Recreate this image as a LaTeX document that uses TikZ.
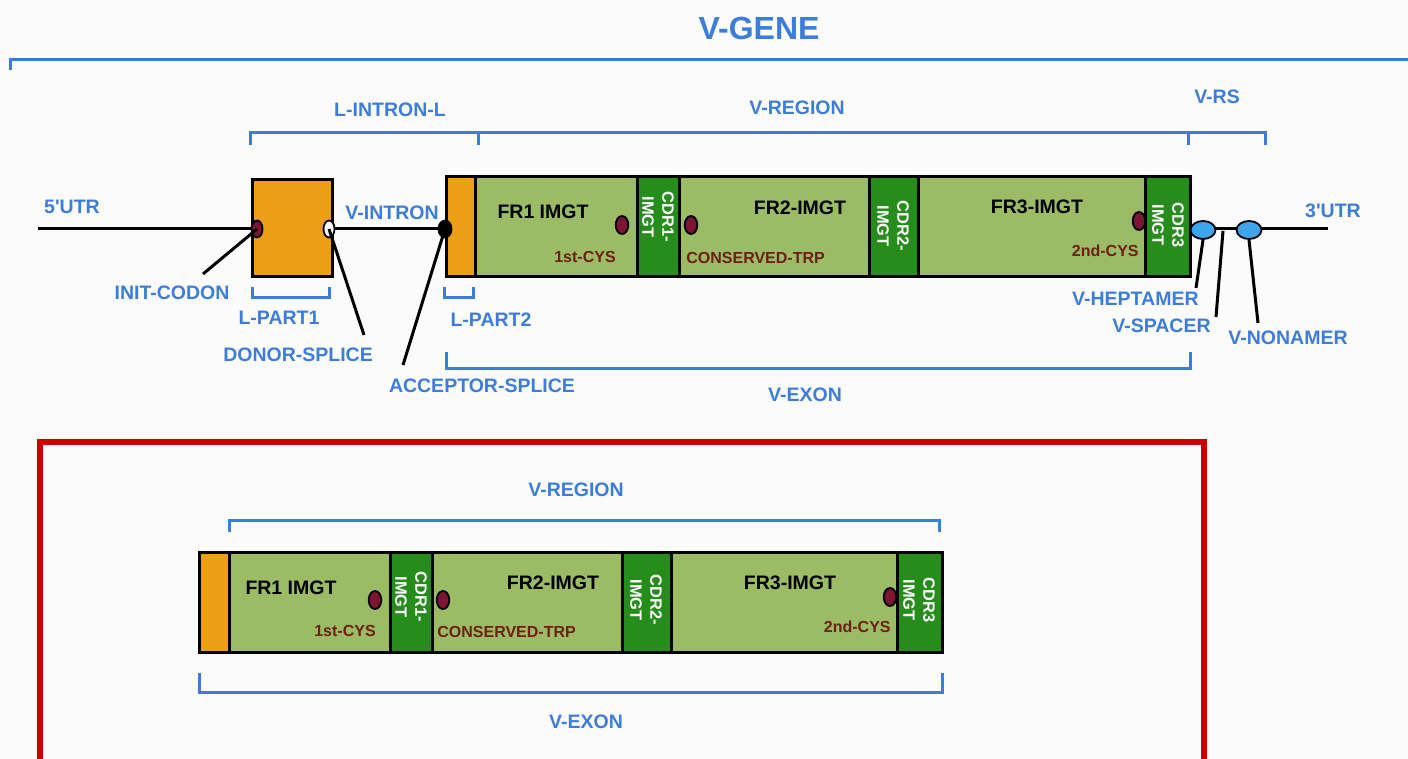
\documentclass[tikz,border=0pt]{standalone}
\usepackage{fontspec}
\setmainfont{Liberation Sans}
\usetikzlibrary{fit,shapes.geometric}
\definecolor{bg}{RGB}{251,251,251}
\definecolor{blu}{RGB}{60,125,220}
\definecolor{orng}{RGB}{235,158,22}
\definecolor{lgrn}{RGB}{155,187,100}
\definecolor{dgrn}{RGB}{38,140,28}
\definecolor{dotred}{RGB}{125,20,50}
\definecolor{brn}{RGB}{110,30,20}
\definecolor{lblu}{RGB}{60,165,235}
\definecolor{frame}{RGB}{205,0,0}
\begin{document}
\begin{tikzpicture}[x=0.5pt,y=-0.5pt,
  lbl/.style={text=blu, font=\bfseries\fontsize{9.75}{11}\selectfont, inner sep=0pt},
  brk/.style={draw=blu, line width=1.5pt},
  seg/.style={draw=black, line width=1.5pt, inner sep=0pt},
  segtxt/.style={text=black, font=\bfseries\fontsize{9.75}{11}\selectfont, inner sep=0pt},
  cdrtxt/.style={text=white, font=\bfseries\fontsize{8.2}{10}\selectfont, rotate=-90, align=center, inner sep=0pt},
  cys/.style={text=brn, font=\bfseries\fontsize{8}{9}\selectfont, inner sep=0pt},
  rdot/.style={ellipse, draw=black, line width=0.9pt, fill=dotred, minimum width=6.3pt, minimum height=9pt, inner sep=0pt},
  sdot/.style={ellipse, draw=black, line width=0.9pt, minimum width=5.5pt, minimum height=8.5pt, inner sep=0pt},
  rsdot/.style={ellipse, draw=black, line width=0.9pt, fill=lblu, minimum width=12.5pt, minimum height=9pt, inner sep=0pt},
  dna/.style={draw=black, line width=1.5pt},
  ptr/.style={draw=black, line width=1.5pt}]
\useasboundingbox[fill=bg] (0,0) rectangle (1408,759);

% ---------- title and top bracket ----------
\node[text=blu, font=\bfseries\fontsize{16}{18}\selectfont, inner sep=0pt] (title) at (759,28) {V-GENE};
\draw[brk] (10,70) -- (10,60) -- (1408,60);

% ---------- upper brackets ----------
\node[lbl] (lintronl) at (390,110) {L-INTRON-L};
\node[lbl] (vregion) at (797,108) {V-REGION};
\node[lbl] (vrs) at (1217,97) {V-RS};
\draw[brk] (250,145) -- (250,133) -- (1265,133) -- (1265,145);
\draw[brk] (478,133) -- (478,145);
\draw[brk] (1188,133) -- (1188,145);

% ---------- DNA line ----------
\coordinate (utr5) at (38,229);
\coordinate (utr3) at (1328,229);
\draw[dna] (utr5) -- (utr3);
\node[lbl] (l5utr) at (72,207) {5\textquotesingle UTR};
\node[lbl] (vintron) at (392,213) {V-INTRON};
\node[lbl] (l3utr) at (1333,211) {3\textquotesingle UTR};

% ---------- upper segments ----------
\node[seg, fill=orng, fit={(252,180)(332,277)}] (lp1) {};
\node[seg, fill=orng, fit={(446,177)(475,277)}] (lp2) {};
\node[seg, fill=lgrn, fit={(475,177)(637,277)}] (fr1) {};
\node[seg, fill=dgrn, fit={(637,177)(679,277)}] (cdr1) {};
\node[seg, fill=lgrn, fit={(679,177)(869,277)}] (fr2) {};
\node[seg, fill=dgrn, fit={(869,177)(918,277)}] (cdr2) {};
\node[seg, fill=lgrn, fit={(918,177)(1145,277)}] (fr3) {};
\node[rdot] (cys2) at (1139,221) {};
\node[seg, fill=dgrn, fit={(1145,177)(1190,277)}] (cdr3) {};

\node[segtxt] (fr1t) at (543,212) {FR1 IMGT};
\node[rdot] (cys1) at (622,225) {};
\node[cys] (cys1t) at (585,257) {1st-CYS};
\node[cdrtxt] (cdr1t) at (658,217) {CDR1-\\IMGT};
\node[rdot] (trp) at (691,225) {};
\node[segtxt] (fr2t) at (800,208) {FR2-IMGT};
\node[cys, anchor=west] (trpt) at (686,258) {CONSERVED-TRP};
\node[cdrtxt] (cdr2t) at (893,226) {CDR2-\\IMGT};
\node[segtxt] (fr3t) at (1037,207) {FR3-IMGT};
\node[cys, anchor=east] (cys2t) at (1139,251) {2nd-CYS};
\node[cdrtxt] (cdr3t) at (1168,225) {CDR3\\IMGT};

% ---------- splice sites and RS ----------
\node[rdot, minimum width=5.5pt, minimum height=8.5pt] (init) at (257,229) {};
\node[sdot, fill=white] (donor) at (329,229) {};
\node[sdot, fill=black, minimum width=6.5pt] (acc) at (445,229) {};
\node[rsdot] (hept) at (1203,230) {};
\node[rsdot] (non) at (1249,230) {};
\coordinate (spc) at (1223,231);

% ---------- lower brackets upper panel ----------
\draw[brk] (252,287) -- (252,298) -- (329,298) -- (329,287);
\node[lbl] (lpart1) at (279,318) {L-PART1};
\draw[brk] (444,287) -- (444,298) -- (473,298) -- (473,287);
\node[lbl] (lpart2) at (491,320) {L-PART2};
\draw[brk] (446,352) -- (446,368) -- (1190,368) -- (1190,352);
\node[lbl] (vexon) at (805,395) {V-EXON};

% ---------- pointer labels ----------
\node[lbl] (initt) at (172,293) {INIT-CODON};
\coordinate (initp) at (203,274);
\draw[ptr] (init.center) -- (initp);
\node[lbl] (donort) at (298,355) {DONOR-SPLICE};
\coordinate (donorp) at (364,335);
\draw[ptr] (donor.center) -- (donorp);
\node[lbl] (acct) at (482,386) {ACCEPTOR-SPLICE};
\coordinate (accp) at (403,365);
\draw[ptr] (acc.center) -- (accp);
\node[lbl, anchor=east] (heptt) at (1199,299) {V-HEPTAMER};
\coordinate (heptp) at (1196,288);
\draw[ptr] (hept.south) -- (heptp);
\node[lbl, anchor=east] (spct) at (1211,326) {V-SPACER};
\coordinate (spcp) at (1216,317);
\draw[ptr] (spc) -- (spcp);
\node[lbl] (nont) at (1288,338) {V-NONAMER};
\coordinate (nonp) at (1258,323);
\draw[ptr] (non.south) -- (nonp);

% ---------- lower panel ----------
\draw[draw=frame, line width=3pt] (40,759) -- (40,442) -- (1204,442) -- (1204,759);
\node[lbl] (vregion2) at (576,490) {V-REGION};
\draw[brk] (229,532) -- (229,520) -- (939,520) -- (939,532);

\node[seg, fill=orng, fit={(199,552)(229,652)}] (lp2b) {};
\node[seg, fill=lgrn, fit={(229,552)(390,652)}] (fr1b) {};
\node[seg, fill=dgrn, fit={(390,552)(432,652)}] (cdr1b) {};
\node[seg, fill=lgrn, fit={(432,552)(622,652)}] (fr2b) {};
\node[seg, fill=dgrn, fit={(622,552)(671,652)}] (cdr2b) {};
\node[seg, fill=lgrn, fit={(671,552)(897,652)}] (fr3b) {};
\node[rdot] (cys2b) at (890,597) {};
\node[seg, fill=dgrn, fit={(897,552)(942,652)}] (cdr3b) {};

\node[segtxt] (fr1tb) at (291,588) {FR1 IMGT};
\node[rdot] (cys1b) at (375,600) {};
\node[cys] (cys1tb) at (345,631) {1st-CYS};
\node[cdrtxt] (cdr1tb) at (411,597) {CDR1-\\IMGT};
\node[rdot] (trpb) at (443,600) {};
\node[segtxt] (fr2tb) at (553,583) {FR2-IMGT};
\node[cys, anchor=west] (trptb) at (437,632) {CONSERVED-TRP};
\node[cdrtxt] (cdr2tb) at (646,600) {CDR2-\\IMGT};
\node[segtxt] (fr3tb) at (790,583) {FR3-IMGT};
\node[cys, anchor=east] (cys2tb) at (891,627) {2nd-CYS};
\node[cdrtxt] (cdr3tb) at (919,600) {CDR3\\IMGT};

\draw[brk] (199,673) -- (199,692) -- (942,692) -- (942,673);
\node[lbl] (vexon2) at (586,722) {V-EXON};
\end{tikzpicture}
\end{document}
